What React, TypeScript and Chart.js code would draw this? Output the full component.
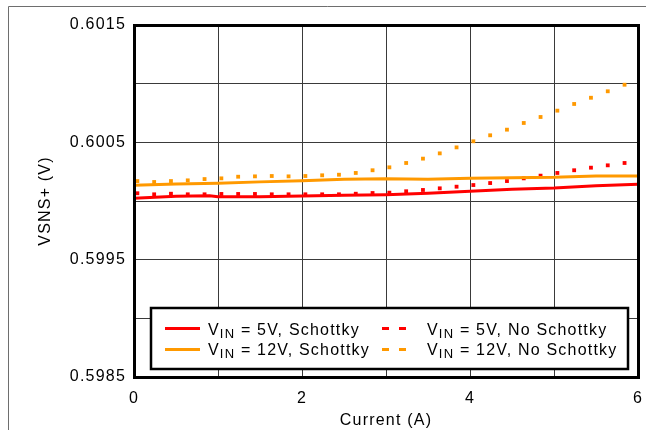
import React, { useEffect, useRef } from "react";
import { Chart, registerables } from "chart.js";

Chart.register(...registerables);

const FONT = "'Liberation Sans', Arial, Helvetica, sans-serif";

// Solid curves (Schottky)
const xVin5Schottky = [0, 0.5, 0.9, 1.0, 1.5, 2.0, 2.5, 3.0, 3.5, 4.0, 4.5, 5.0, 5.5, 6.0];
const vin5Schottky = [0.600023, 0.60004, 0.600045, 0.600037, 0.600037, 0.600043, 0.600049, 0.600054, 0.600066, 0.600083, 0.6001, 0.600111, 0.60013, 0.600142];

const xVin12Schottky = [0, 0.5, 1.0, 1.5, 2.0, 2.5, 3.0, 3.5, 4.0, 4.5, 5.0, 5.5, 6.0];
const vin12Schottky = [0.600134, 0.600145, 0.600151, 0.600163, 0.600173, 0.600185, 0.60019, 0.600185, 0.600193, 0.600199, 0.600202, 0.600213, 0.600213];

// Dotted curves (No Schottky), one dot per reading
const xNoSchottky = [0.04, 0.24, 0.44, 0.64, 0.84, 1.04, 1.24, 1.44, 1.64, 1.84, 2.04, 2.24, 2.44, 2.64, 2.84, 3.04, 3.24, 3.44, 3.64, 3.84, 4.04, 4.24, 4.44, 4.64, 4.84, 5.04, 5.24, 5.44, 5.64, 5.84];
const vin5NoSchottky = [0.600066, 0.600057, 0.600062, 0.600057, 0.600057, 0.60006, 0.60006, 0.60006, 0.600057, 0.600057, 0.600057, 0.600057, 0.600057, 0.600062, 0.600068, 0.600071, 0.600083, 0.600094, 0.600108, 0.600122, 0.600136, 0.600153, 0.60017, 0.600193, 0.600216, 0.600239, 0.600262, 0.600284, 0.600304, 0.600324];
const vin12NoSchottky = [0.60017, 0.600162, 0.60017, 0.600176, 0.600187, 0.600193, 0.600207, 0.60021, 0.600213, 0.60021, 0.600213, 0.600219, 0.600224, 0.600239, 0.600262, 0.600287, 0.600324, 0.600361, 0.600406, 0.600457, 0.600509, 0.60056, 0.600608, 0.600665, 0.600716, 0.60077, 0.600827, 0.60088, 0.600935, 0.600991];

// Axes
const yGridValues = [0.5985, 0.599, 0.5995, 0.6, 0.6005, 0.601, 0.6015];
const yTickLabels = ["0.5985", "", "0.5995", "", "0.6005", "", "0.6015"];
const xGridValues = [0, 1, 2, 3, 4, 5, 6];
const xTickLabels = ["0", "", "2", "", "4", "", "6"];

// Legend
const legendRest = [" = 5V, Schottky", " = 12V, Schottky", " = 5V, No Schottky", " = 12V, No Schottky"];
const RED = "#FF0000";
const ORANGE = "#FF9900";
const seriesColors = [RED, ORANGE, RED, ORANGE];

const pts = (xs: number[], ys: number[]) => xs.map((x, i) => ({ x, y: ys[i] }));

export default function App() {
  const ref = useRef<HTMLCanvasElement>(null);

  useEffect(() => {
    const canvas = ref.current!;

    const framePlugin = {
      id: "frame",
      beforeDraw(chart: any) {
        const ctx = chart.ctx as CanvasRenderingContext2D;
        (ctx as any).letterSpacing = "1.2px";
        ctx.save();
        ctx.strokeStyle = "#6e6e6e";
        ctx.lineWidth = 1;
        ctx.beginPath();
        ctx.moveTo(8.5, 430);
        ctx.lineTo(8.5, 6.5);
        ctx.lineTo(646, 6.5);
        ctx.stroke();
        ctx.restore();
      },
      afterDatasetsDraw(chart: any) {
        const ctx = chart.ctx as CanvasRenderingContext2D;
        const a = chart.chartArea;
        ctx.save();
        ctx.strokeStyle = "#000";
        ctx.lineWidth = 3;
        ctx.strokeRect(a.left + 0.5, a.top + 0.5, a.right - a.left, a.bottom - a.top);
        ctx.restore();
      },
      afterDraw(chart: any) {
        const ctx = chart.ctx as CanvasRenderingContext2D;
        const a = chart.chartArea;
        const bx = a.left + 17;
        const by = a.bottom - 69;
        const bw = a.right - a.left - 27;
        const bh = 61;
        ctx.save();
        ctx.fillStyle = "#fff";
        ctx.fillRect(bx, by, bw, bh);
        ctx.strokeStyle = "#000";
        ctx.lineWidth = 2.5;
        ctx.strokeRect(bx, by, bw, bh);

        const rows = [by + 27, by + 47];
        const lineY = [by + 20, by + 41];
        const cols = [
          { sx0: bx + 14, sx1: bx + 49, tx: bx + 57 },
          { sx0: bx + 231, sx1: bx + 255, tx: bx + 276 },
        ];
        for (let i = 0; i < 4; i++) {
          const col = cols[i < 2 ? 0 : 1];
          const r = i % 2;
          ctx.strokeStyle = seriesColors[i];
          ctx.lineWidth = 3;
          ctx.setLineDash(i < 2 ? [] : [7, 10]);
          ctx.beginPath();
          ctx.moveTo(col.sx0, lineY[r] + 0.5);
          ctx.lineTo(col.sx1, lineY[r] + 0.5);
          ctx.stroke();
          ctx.setLineDash([]);

          ctx.fillStyle = "#000";
          ctx.textAlign = "left";
          ctx.textBaseline = "alphabetic";
          let x = col.tx;
          ctx.font = `16px ${FONT}`;
          ctx.fillText("V", x, rows[r]);
          x += ctx.measureText("V").width;
          ctx.font = `13px ${FONT}`;
          ctx.fillText("IN", x, rows[r] + 3);
          x += ctx.measureText("IN").width;
          ctx.font = `16px ${FONT}`;
          ctx.fillText(legendRest[i], x, rows[r]);
        }
        ctx.restore();
      },
    };

    const tickFont = { family: FONT, size: 16 };

    const chart = new Chart(canvas, {
      type: "line",
      data: {
        datasets: [
          {
            label: "VIN = 5V, Schottky",
            data: pts(xVin5Schottky, vin5Schottky),
            borderColor: RED,
            backgroundColor: RED,
            borderWidth: 3,
            pointRadius: 0,
            tension: 0,
          },
          {
            label: "VIN = 12V, Schottky",
            data: pts(xVin12Schottky, vin12Schottky),
            borderColor: ORANGE,
            backgroundColor: ORANGE,
            borderWidth: 3,
            pointRadius: 0,
            tension: 0,
          },
          {
            label: "VIN = 5V, No Schottky",
            data: pts(xNoSchottky, vin5NoSchottky),
            borderColor: RED,
            backgroundColor: RED,
            showLine: false,
            pointStyle: "rect",
            pointRadius: 2.7,
            pointBorderWidth: 0,
            pointBackgroundColor: RED,
          },
          {
            label: "VIN = 12V, No Schottky",
            data: pts(xNoSchottky, vin12NoSchottky),
            borderColor: ORANGE,
            backgroundColor: ORANGE,
            showLine: false,
            pointStyle: "rect",
            pointRadius: 2.7,
            pointBorderWidth: 0,
            pointBackgroundColor: ORANGE,
          },
        ],
      },
      options: {
        responsive: false,
        animation: false,
        devicePixelRatio: 1,
        layout: { padding: { left: 0, right: 8, top: 25, bottom: 0 } },
        plugins: {
          legend: { display: false },
          tooltip: { enabled: false },
        },
        scales: {
          x: {
            type: "linear",
            min: 0,
            max: 6,
            afterBuildTicks: (s: any) => {
              s.ticks = xGridValues.map((v) => ({ value: v }));
            },
            afterFit: (s: any) => {
              s.height = 53;
              s.paddingLeft = 0;
              s.paddingRight = 0;
            },
            grid: { color: "#3a3a3a", lineWidth: 1, drawTicks: false },
            border: { display: false },
            ticks: {
              padding: 12,
              color: "#000",
              font: tickFont,
              maxRotation: 0,
              autoSkip: false,
              callback: (_v: any, i: number) => xTickLabels[i],
            },
            title: {
              display: true,
              text: "Current (A)",
              color: "#000",
              font: tickFont,
              padding: { top: 0, bottom: 0 },
            },
          },
          y: {
            type: "linear",
            min: 0.5985,
            max: 0.6015,
            afterBuildTicks: (s: any) => {
              s.ticks = yGridValues.map((v) => ({ value: v }));
            },
            afterFit: (s: any) => {
              s.width = 134;
              s.paddingTop = 0;
              s.paddingBottom = 0;
            },
            grid: { color: "#3a3a3a", lineWidth: 1, drawTicks: false },
            border: { display: false },
            ticks: {
              padding: 8,
              color: "#000",
              font: tickFont,
              autoSkip: false,
              callback: (_v: any, i: number) => yTickLabels[i],
            },
            title: {
              display: true,
              text: "VSNS+ (V)",
              color: "#000",
              font: tickFont,
              padding: { top: 36, bottom: 0 },
            },
          },
        },
      },
      plugins: [framePlugin],
    } as any);

    return () => chart.destroy();
  }, []);

  return (
    <div style={{ position: "fixed", left: 0, top: 0, width: 646, height: 430, background: "#fff" }}>
      <canvas ref={ref} width={646} height={430} style={{ display: "block" }} />
    </div>
  );
}
